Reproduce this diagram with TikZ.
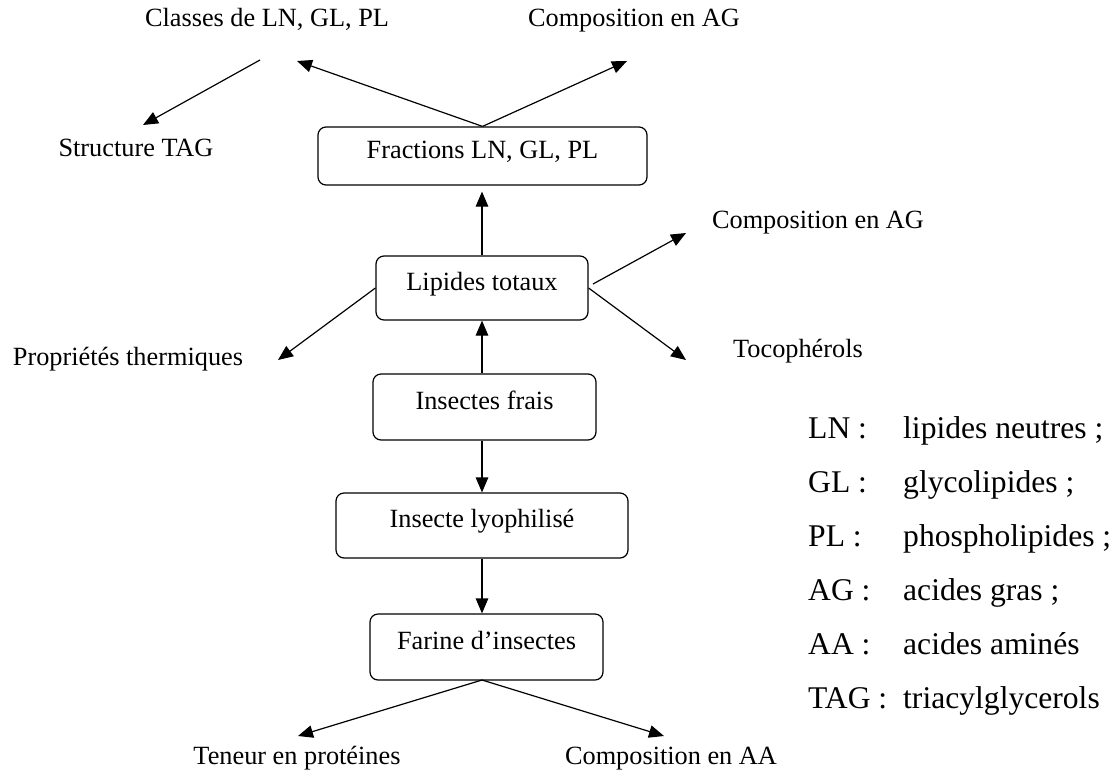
\documentclass[tikz,border=0pt]{standalone}
\usepackage{fontspec}
\setmainfont{Liberation Serif}
\usetikzlibrary{arrows.meta}
\begin{document}
\begin{tikzpicture}[x=1pt,y=-1pt,
  box/.style={draw, rounded corners=8pt, line width=1.2pt, inner sep=0pt,
    font=\fontsize{26.3}{30}\selectfont, text height=0.69em, text depth=0.22em},
  lbl/.style={inner sep=0pt, font=\fontsize{26.3}{30}\selectfont, text height=0.69em, text depth=0.22em},
  leg/.style={inner sep=0pt, anchor=west, font=\fontsize{31.6}{36}\selectfont, text height=0.69em, text depth=0.22em},
  arr/.style={-{Triangle[length=15pt,width=12.5pt]}, line width=1.2pt}]
\useasboundingbox (0,0) rectangle (1118,774);

% boxes
\node[box, minimum width=329pt, minimum height=58pt] (frac) at (482.5,156) {Fractions LN, GL, PL};
\node[box, minimum width=212pt, minimum height=64pt] (lip) at (482,288) {Lipides totaux};
\node[box, minimum width=223pt, minimum height=66pt] (fra) at (484.5,407) {Insectes frais};
\node[box, minimum width=292pt, minimum height=65pt] (lyo) at (482,525.5) {Insecte lyophilisé};
\node[box, minimum width=233pt, minimum height=66pt] (far) at (486.5,647) {Farine d’insectes};

% text labels
\node[lbl] (classes) at (267,24) {Classes de LN, GL, PL};
\node[lbl] (compag1) at (634,24) {Composition en AG};
\node[lbl] (struct) at (136,154) {Structure TAG};
\node[lbl] (compag2) at (818,226) {Composition en AG};
\node[lbl] (prop) at (128,363) {Propriétés thermiques};
\node[lbl] (toco) at (798,355) {Tocophérols};
\node[lbl] (ten) at (297,762) {Teneur en protéines};
\node[lbl] (compaa) at (671,762) {Composition en AA};

% legend
\node[leg] (l1) at (808,436) {LN :};   \node[leg] (d1) at (903,436) {lipides neutres ;};
\node[leg] (l2) at (808,490) {GL :};   \node[leg] (d2) at (903,490) {glycolipides ;};
\node[leg] (l3) at (808,544) {PL :};   \node[leg] (d3) at (903,544) {phospholipides ;};
\node[leg] (l4) at (808,598) {AG :};   \node[leg] (d4) at (903,598) {acides gras ;};
\node[leg] (l5) at (808,652) {AA :};   \node[leg] (d5) at (903,652) {acides aminés};
\node[leg] (l6) at (808,706) {TAG :};  \node[leg] (d6) at (903,706) {triacylglycerols};

% free arrow ends
\coordinate (tc) at (297,61);
\coordinate (ta) at (627,61);
\coordinate (s0) at (260,60);
\coordinate (s1) at (143,125);
\coordinate (tp) at (278,360);
\coordinate (lu) at (593,284);
\coordinate (tag) at (686,233);
\coordinate (tt) at (686,360);
\coordinate (fb) at (482,680);
\coordinate (tpr) at (298,736);
\coordinate (taa) at (664,736);

% arrows
\draw[arr] (frac.north) -- (tc);
\draw[arr] (frac.north) -- (ta);
\draw[arr] (s0) -- (s1);
\draw[arr, shorten >=6pt] (lip.north) -- (lip.north |- frac.south);
\draw[arr] (lip.west) -- (tp);
\draw[arr] (lu) -- (tag);
\draw[arr] (lip.east) -- (tt);
\draw[arr] (lip.south |- fra.north) -- (lip.south);
\draw[arr] (lyo.north |- fra.south) -- (lyo.north);
\draw[arr] (lyo.south) -- (lyo.south |- far.north);
\draw[arr] (fb) -- (tpr);
\draw[arr] (fb) -- (taa);
\end{tikzpicture}
\end{document}
